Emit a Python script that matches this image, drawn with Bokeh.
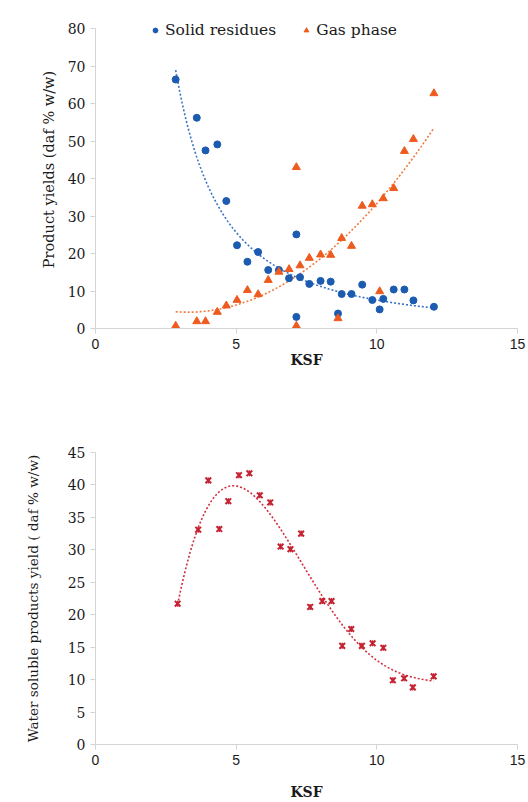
import numpy as np
from bokeh.plotting import figure
from bokeh.layouts import column
from bokeh.models import Range1d, FixedTicker, Legend, LegendItem
from bokeh.embed import file_html
from bokeh.resources import INLINE

# ---- data ----
ksf = [2.85, 3.60, 3.91, 4.33, 4.65, 5.03, 5.40, 5.78, 6.14, 6.52, 6.88, 7.14, 7.14, 7.27,
       7.60, 8.00, 8.36, 8.62, 8.75, 9.10, 9.48, 9.84, 10.10, 10.23, 10.60, 10.98, 11.30, 12.03]
solid_residues = [66.4, 56.2, 47.5, 49.1, 34.0, 22.2, 17.8, 20.4, 15.6, 15.6, 13.4, 25.1, 3.1, 13.7,
                  11.9, 12.7, 12.5, 4.0, 9.2, 9.2, 11.7, 7.6, 5.1, 7.9, 10.4, 10.4, 7.5, 5.8]
gas_phase = [0.7, 1.9, 1.9, 4.4, 6.1, 7.6, 10.2, 9.1, 12.9, 15.1, 15.8, 43.0, 0.7, 16.8,
             18.8, 19.7, 19.6, 2.7, 24.1, 22.0, 32.7, 33.1, 9.9, 34.7, 37.4, 47.3, 50.5, 62.7]

ksf_water = [2.92, 3.65, 4.01, 4.40, 4.72, 5.10, 5.47, 5.84, 6.21, 6.58, 6.93, 7.31,
             7.63, 8.06, 8.39, 8.77, 9.09, 9.47, 9.85, 10.23, 10.57, 10.97, 11.28, 12.02]
water_soluble = [21.7, 33.1, 40.7, 33.2, 37.5, 41.5, 41.8, 38.4, 37.3, 30.5, 30.1, 32.5,
                 21.2, 22.1, 22.1, 15.2, 17.8, 15.2, 15.6, 14.9, 9.9, 10.2, 8.8, 10.5]

x_ticks = [0, 5, 10, 15]
y_ticks_top = [0, 10, 20, 30, 40, 50, 60, 70, 80]
y_ticks_bottom = [0, 5, 10, 15, 20, 25, 30, 35, 40, 45]

BLUE = "#1B5BB0"
ORANGE = "#EE5B1F"
RED = "#C42332"
SERIF = "DejaVu Serif"
SANS = "Liberation Sans"

# ---- trend lines (fitted like spreadsheet trendlines) ----
xs = np.array(ksf)
b, ln_a = np.polyfit(np.log(xs), np.log(np.array(solid_residues)), 1)
xs_fit = np.linspace(xs.min(), xs.max(), 200)
solid_fit = np.exp(ln_a) * xs_fit ** b
gas_coef = np.polyfit(xs, np.array(gas_phase), 2)
gas_fit = np.polyval(gas_coef, xs_fit)

xw = np.array(ksf_water)
xw_fit = np.linspace(xw.min(), xw.max(), 200)
w_coef = np.polyfit(xw, np.array(water_soluble), 4)
water_fit = np.polyval(w_coef, xw_fit)


def style(p, yticks):
    p.xgrid.visible = False
    p.ygrid.visible = False
    p.outline_line_color = None
    p.xaxis.ticker = FixedTicker(ticks=x_ticks)
    p.yaxis.ticker = FixedTicker(ticks=yticks)
    for ax in (p.xaxis[0], p.yaxis[0]):
        ax.axis_line_color = "#D4D4D4"
        ax.major_tick_line_color = "#D4D4D4"
        ax.major_tick_out = 5
        ax.major_tick_in = 0
        ax.minor_tick_line_color = None
        ax.major_label_text_color = "#1a1a1a"
        ax.axis_label_text_color = "#1a1a1a"
        ax.axis_label_text_font_style = "normal"
    p.xaxis.major_label_text_font = SANS
    p.xaxis.major_label_text_font_size = "14px"
    p.yaxis.major_label_text_font = SERIF
    p.yaxis.major_label_text_font_size = "14px"
    p.xaxis.axis_label = "KSF"
    p.xaxis.axis_label_text_font = SERIF
    p.xaxis.axis_label_text_font_style = "bold"
    p.xaxis.axis_label_text_font_size = "14px"
    p.yaxis.axis_label_text_font = SERIF
    p.yaxis.bounds = (yticks[0], yticks[-1])


# ---- top chart ----
# frame extends above 80 so the legend (drawn at the level of the 80 tick) is not clipped
p1 = figure(width=528, height=378, output_backend="svg", toolbar_location=None,
            x_range=Range1d(0, 15), y_range=Range1d(0, 84.8),
            min_border_left=95, min_border_right=11, min_border_top=10, min_border_bottom=50)
style(p1, y_ticks_top)
p1.yaxis.axis_label = "Product yields (daf % w/w)"
p1.yaxis.axis_label_text_font_size = "14.5px"
p1.yaxis.axis_label_standoff = 8
p1.xaxis.axis_label_standoff = 0

p1.line(xs_fit, solid_fit, line_color="#3A72C4", line_width=1.6, line_dash="2 2")
p1.line(xs_fit, gas_fit, line_color="#F07A3A", line_width=1.6, line_dash="2 2")
r_solid = p1.scatter(ksf, solid_residues, marker="circle", size=7, fill_color=BLUE, line_color=BLUE)
r_gas = p1.scatter(ksf, gas_phase, marker="triangle", size=8, fill_color=ORANGE, line_color=ORANGE)

legend = Legend(items=[LegendItem(label="Solid residues", renderers=[r_solid]),
                       LegendItem(label="Gas phase", renderers=[r_gas])],
                orientation="horizontal", location=(54, 289),
                padding=0, margin=0, spacing=24, glyph_width=12, glyph_height=14,
                label_standoff=4, border_line_alpha=0, background_fill_alpha=0,
                label_text_font=SERIF, label_text_font_size="15.5px",
                label_text_color="#1a1a1a")
p1.add_layout(legend)

# ---- bottom chart ----
p2 = figure(width=528, height=424, output_backend="svg", toolbar_location=None,
            x_range=Range1d(0, 15), y_range=Range1d(0, 45),
            min_border_left=95, min_border_right=11, min_border_top=74, min_border_bottom=56)
style(p2, y_ticks_bottom)
p2.yaxis.axis_label = "Water soluble products yield ( daf % w/w)"
p2.yaxis.axis_label_text_font_size = "13.6px"
p2.yaxis.axis_label_standoff = 24
p2.xaxis.axis_label_standoff = 16

p2.line(xw_fit, water_fit, line_color="#D0303E", line_width=1.6, line_dash="2 2")
p2.scatter(ksf_water, water_soluble, marker="x", size=8, line_color=RED, line_width=2)
p2.scatter(ksf_water, water_soluble, marker="dash", angle=np.pi / 2, size=6,
           line_color=RED, line_width=1.5)

layout = column(p1, p2, spacing=0)
open("out.html", "w").write(file_html(layout, INLINE))
